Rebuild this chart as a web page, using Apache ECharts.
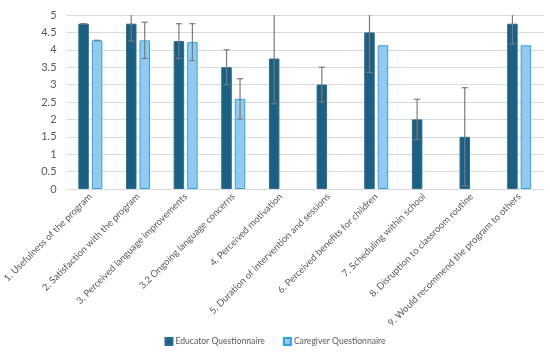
<!DOCTYPE html>
<html><head><meta charset="utf-8">
<script src="https://cdn.jsdelivr.net/npm/echarts@6/dist/echarts.min.js"></script>
<style>html,body{margin:0;padding:0;background:#fff}#c{width:550px;height:354px}</style>
</head><body><div id="c"></div>
<script>
const categories = ["1. Usefulness of the program","2. Satisfaction with the program","3. Perceived language improvements","3.2 Ongoing language concerns","4. Perceived motivation","5. Duration of intervention and sessions","6. Perceived benefits for children","7. Scheduling within school","8. Disruption to classroom routine","9. Would recommend the program to others"];
const educatorValues = [4.75, 4.75, 4.25, 3.5, 3.75, 3.0, 4.5, 2.0, 1.5, 4.75];
const educatorErrors = [0, 0.5, 0.5, 0.5, 1.3, 0.5, 1.15, 0.58, 1.41, 0.58];
const caregiverValues = [4.27, 4.27, 4.22, 2.59, null, null, 4.13, null, null, 4.13];
const caregiverErrors = [0, 0.52, 0.53, 0.58, null, null, null, null, null, null];
const yTicks = [0, 0.5, 1, 1.5, 2, 2.5, 3, 3.5, 4, 4.5, 5];

const BAR_W = 10.5, GAP = 3;
const FONT = 'Lato';
function errSeries(vals, errs, sign) {
  return {
    type: 'custom',
    z: 10,
    silent: true,
    data: vals.map((v, i) => (v == null || errs[i] == null) ? null : [i, v, errs[i]]).filter(d => d),
    renderItem: function (params, api) {
      const i = api.value(0), v = api.value(1), e = api.value(2);
      const off = sign * (BAR_W + GAP) / 2;
      const yMax = yTicks[yTicks.length - 1], yMin = yTicks[0];
      const hiV = Math.min(v + e, yMax), loV = Math.max(v - e, yMin);
      const hi = api.coord([i, hiV]), lo = api.coord([i, loV]);
      const x = hi[0] + off;
      const st = { stroke: '#7a7a7a', lineWidth: 1.2 };
      const children = [{ type: 'line', shape: { x1: x, y1: hi[1], x2: x, y2: lo[1] }, style: st }];
      if (v + e <= yMax) children.push({ type: 'line', shape: { x1: x - 3, y1: hi[1], x2: x + 3, y2: hi[1] }, style: st });
      if (v - e >= yMin) children.push({ type: 'line', shape: { x1: x - 3, y1: lo[1], x2: x + 3, y2: lo[1] }, style: st });
      return { type: 'group', children: children };
    }
  };
}
const chart = echarts.init(document.getElementById('c'), null, { renderer: 'canvas' });
chart.setOption({
  animation: false,
  textStyle: { fontFamily: FONT },
  grid: { left: 65, right: 7, top: 15, bottom: 165 },
  legend: {
    bottom: 3, left: 'center', itemWidth: 7, itemHeight: 7, itemGap: 18, icon: 'rect',
    textStyle: { fontFamily: FONT, fontSize: 8.6, color: '#595959', padding: [0, 0, 0, -2] },
    data: ['Educator Questionnaire', 'Caregiver Questionnaire']
  },
  xAxis: {
    type: 'category', data: categories,
    axisLine: { lineStyle: { color: '#d9d9d9' } },
    axisTick: { show: false },
    axisLabel: { interval: 0, rotate: 45, fontSize: 9.5, color: '#595959', fontFamily: FONT, margin: 6 }
  },
  yAxis: {
    type: 'value', min: 0, max: 5, interval: 0.5,
    axisLabel: { fontSize: 11, color: '#595959', fontFamily: FONT, margin: 10 },
    splitLine: { lineStyle: { color: '#d9d9d9' } },
    axisLine: { show: false }, axisTick: { show: false }
  },
  series: [
    { name: 'Educator Questionnaire', type: 'bar', data: educatorValues, barWidth: BAR_W, barGap: (GAP / BAR_W * 100) + '%',
      itemStyle: { color: '#1b5f82', borderColor: '#2a6f93', borderWidth: 1 } },
    { name: 'Caregiver Questionnaire', type: 'bar', data: caregiverValues, barWidth: BAR_W,
      itemStyle: { color: '#93c9ef', borderColor: '#2ea3df', borderWidth: 1 } },
    errSeries(educatorValues, educatorErrors, -1),
    errSeries(caregiverValues, caregiverErrors, 1)
  ]
});
</script></body></html>
